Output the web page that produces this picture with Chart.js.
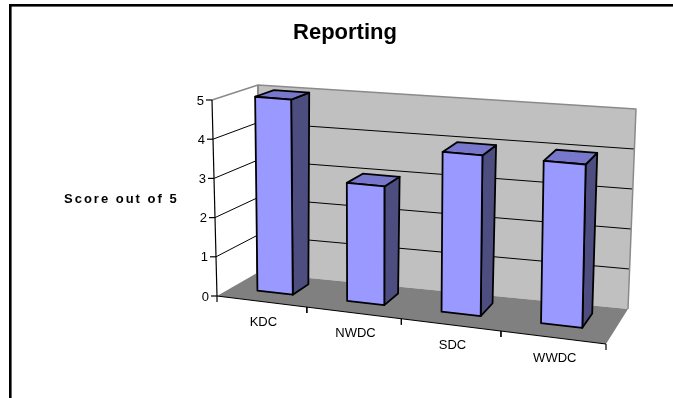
<!DOCTYPE html>
<html>
<head>
<meta charset="utf-8">
<style>
  html, body { margin: 0; padding: 0; background: #ffffff; overflow: hidden; }
  #wrap { width: 673px; height: 398px; position: relative; }
</style>
<script src="https://cdn.jsdelivr.net/npm/chart.js@4.4.0/dist/chart.umd.min.js"></script>
</head>
<body>
<div id="wrap"><canvas id="c" width="673" height="398"></canvas></div>
<script>
// ---- data ----
const categories = ['KDC', 'NWDC', 'SDC', 'WWDC'];
const scores = [5, 3, 4, 4];
const valueTicks = [0, 1, 2, 3, 4, 5];
const chartTitle = 'Reporting';
const valueAxisTitle = 'Score out of 5';

// ---- 3-D plot box layout ----
// Box units: u across categories (0..1), v up the value axis (0..1), w into depth (0..1).
// Screen corners of the plot box (front = w 0, back = w 1).
const boxCorners = {
  frontBottomLeft: [217, 296], frontTopLeft: [212, 100],
  frontBottomRight: [606, 344], frontTopRight: [609, 136],
  backBottomLeft: [257, 273], backTopLeft: [258, 85],
  backBottomRight: [628, 309], backTopRight: [636, 109]
};
const perspectiveU = -0.099;   // foreshortening along the category direction
const barDepth = [0.36, 0.78];

const colors = {
  backWall: '#c0c0c0', sideWall: '#ffffff', floor: '#808080', wallEdge: '#8a8a8a',
  grid: '#000000', axis: '#000000', text: '#000000',
  barFront: '#9999ff', barTop: '#7777cc', barSide: '#4d4d80', barEdge: '#000000'
};
const FONT = '"Liberation Sans", Arial, sans-serif';

const lerp = (a, b, t) => [a[0] + (b[0] - a[0]) * t, a[1] + (b[1] - a[1]) * t];
function project(u, v, w) {
  const B = boxCorners;
  const t = u * (1 + perspectiveU) / (1 + perspectiveU * u);
  const fb = lerp(B.frontBottomLeft, B.frontBottomRight, t);
  const ft = lerp(B.frontTopLeft, B.frontTopRight, t);
  const bb = lerp(B.backBottomLeft, B.backBottomRight, t);
  const bt = lerp(B.backTopLeft, B.backTopRight, t);
  return lerp(lerp(fb, ft, v), lerp(bb, bt, v), w);
}

function poly(ctx, pts, fill, stroke, lw) {
  ctx.beginPath();
  pts.forEach((p, i) => (i ? ctx.lineTo(p[0], p[1]) : ctx.moveTo(p[0], p[1])));
  ctx.closePath();
  if (fill) { ctx.fillStyle = fill; ctx.fill(); }
  if (stroke) { ctx.strokeStyle = stroke; ctx.lineWidth = lw; ctx.stroke(); }
}
function line(ctx, a, b, color, lw) {
  ctx.beginPath();
  ctx.moveTo(a[0], a[1]); ctx.lineTo(b[0], b[1]);
  ctx.strokeStyle = color; ctx.lineWidth = lw; ctx.stroke();
}

const perspectiveBars = {
  id: 'perspectiveBars',
  beforeDraw(chart) {
    const ctx = chart.ctx;
    ctx.save();
    ctx.strokeStyle = '#000';
    ctx.lineWidth = 2.6;
    ctx.strokeRect(10.3, 5.3, 760, 500);
    ctx.restore();
  },
  afterDatasetsDraw(chart) {
    const ctx = chart.ctx;
    const xs = chart.scales.x, ys = chart.scales.y;
    const y0 = ys.getPixelForValue(ys.min), y1 = ys.getPixelForValue(ys.max);
    const vOf = (py) => (y0 - py) / (y0 - y1);
    const uOf = (px) => (px - xs.left) / xs.width;
    const P = project;

    ctx.save();
    ctx.lineJoin = 'round';

    // walls and floor
    poly(ctx, [P(0, 0, 0), P(0, 0, 1), P(0, 1, 1), P(0, 1, 0)], colors.sideWall);
    poly(ctx, [P(0, 0, 1), P(1, 0, 1), P(1, 1, 1), P(0, 1, 1)], colors.backWall);
    poly(ctx, [P(0, 0, 0), P(1, 0, 0), P(1, 0, 1), P(0, 0, 1)], colors.floor);

    // gridlines on the side and back walls
    valueTicks.forEach((t) => {
      if (t === ys.min || t === ys.max) return;
      const v = vOf(ys.getPixelForValue(t));
      line(ctx, P(0, v, 0), P(0, v, 1), colors.grid, 1);
      line(ctx, P(0, v, 1), P(1, v, 1), colors.grid, 1);
    });
    // wall outlines
    ctx.beginPath();
    [P(0, 1, 0), P(0, 1, 1), P(1, 1, 1), P(1, 0, 1)].forEach((p, i) => (i ? ctx.lineTo(p[0], p[1]) : ctx.moveTo(p[0], p[1])));
    ctx.strokeStyle = colors.wallEdge; ctx.lineWidth = 1.5; ctx.stroke();
    line(ctx, P(0, 0, 1), P(0, 1, 1), colors.wallEdge, 2);

    // value axis
    line(ctx, P(0, 0, 0), P(0, 1, 0), colors.axis, 1.2);
    ctx.fillStyle = colors.text;
    ctx.font = '13px ' + FONT;
    ctx.textAlign = 'right';
    ctx.textBaseline = 'middle';
    valueTicks.forEach((t) => {
      const p = P(0, vOf(ys.getPixelForValue(t)), 0);
      line(ctx, [p[0] - 6, p[1]], p, colors.axis, 1.2);
      ctx.fillText(String(t), p[0] - 8, p[1] + 1);
    });

    // value axis title
    const mid = P(0, 0.5, 0);
    ctx.font = 'bold 13px ' + FONT;
    ctx.textAlign = 'left';
    ctx.letterSpacing = '2px';
    ctx.fillText(valueAxisTitle, 64, mid[1] + 1);
    ctx.letterSpacing = '0px';

    // category axis
    line(ctx, P(0, 0, 0), P(1, 0, 0), colors.axis, 1.2);
    const half = xs.width / categories.length / 2;
    ctx.font = '13px ' + FONT;
    ctx.textAlign = 'center';
    categories.forEach((c, i) => {
      const cx = xs.getPixelForTick(i);
      [cx - half, cx + half].forEach((bx) => {
        const p = P(uOf(bx), 0, 0);
        line(ctx, p, [p[0], p[1] + 6], colors.axis, 1.2);
      });
      const q = P(uOf(cx), 0, 0);
      ctx.fillText(c, q[0] + 2, q[1] + 21);
    });

    // bars
    const meta = chart.getDatasetMeta(0);
    const [w0, w1] = barDepth;
    meta.data.forEach((el) => {
      const u0 = uOf(el.x - el.width / 2), u1 = uOf(el.x + el.width / 2);
      const vb = vOf(el.base), vt = vOf(el.y);
      poly(ctx, [P(u1, vb, w0), P(u1, vb, w1), P(u1, vt, w1), P(u1, vt, w0)], colors.barSide, colors.barEdge, 1.8);
      poly(ctx, [P(u0, vt, w0), P(u1, vt, w0), P(u1, vt, w1), P(u0, vt, w1)], colors.barTop, colors.barEdge, 1.8);
      poly(ctx, [P(u0, vb, w0), P(u1, vb, w0), P(u1, vt, w0), P(u0, vt, w0)], colors.barFront, colors.barEdge, 1.8);
    });
    ctx.restore();
  }
};

new Chart(document.getElementById('c'), {
  type: 'bar',
  data: {
    labels: categories,
    datasets: [{
      label: chartTitle,
      data: scores,
      backgroundColor: 'rgba(0,0,0,0)',
      borderWidth: 0,
      categoryPercentage: 1,
      barPercentage: 0.4
    }]
  },
  options: {
    responsive: false,
    devicePixelRatio: 1,
    animation: false,
    layout: { padding: { left: 17, right: 0, top: 0, bottom: 0 } },
    scales: {
      x: { display: false },
      y: { display: false, min: 0, max: 5, ticks: { stepSize: 1 } }
    },
    plugins: {
      legend: { display: false },
      tooltip: { enabled: false },
      title: {
        display: true,
        text: chartTitle,
        color: '#000',
        font: { family: FONT, size: 22, weight: 'bold' },
        padding: { top: 20, bottom: 10 }
      }
    }
  },
  plugins: [perspectiveBars]
});
</script>
</body>
</html>
